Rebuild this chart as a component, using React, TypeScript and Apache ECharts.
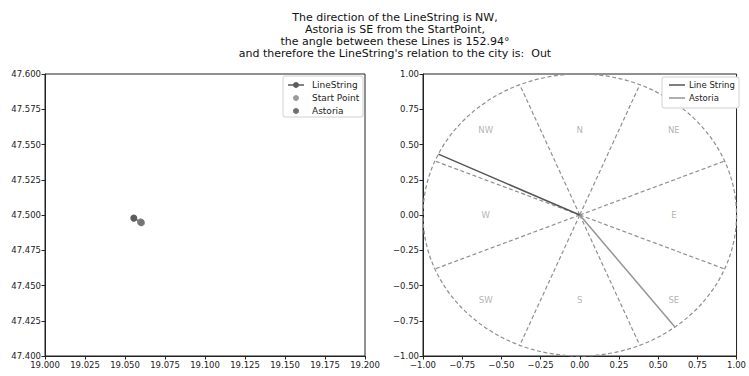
import React, { useEffect, useRef } from "react";
import * as echarts from "echarts";

// ---------- data ----------
const titleLines = [
  "The direction of the LineString is NW,",
  "Astoria is SE from the StartPoint,",
  "the angle between these Lines is 152.94°",
  "and therefore the LineString's relation to the city is:  Out",
];

// left plot (lon / lat)
const lineStringLon = [19.0598, 19.0555];
const lineStringLat = [47.495, 47.4978];
const startPointLonLat = [19.0598, 47.495];
const astoriaLonLat = [19.0603, 47.4945];

// right plot (compass, unit vectors)
const lineStringVector = [-0.902, 0.432];
const astoriaVector = [0.607, -0.795];
const sectorBoundaryAngles = [22.5, 67.5, 112.5, 157.5, 202.5, 247.5, 292.5, 337.5];
const directionLabels = ["N", "NE", "E", "SE", "S", "SW", "W", "NW"];
const directionLabelX = [0, 0.6, 0.6, 0.6, 0, -0.6, -0.6, -0.6];
const directionLabelY = [0.6, 0.6, 0, -0.6, -0.6, -0.6, 0, 0.6];

const FONT = "DejaVu Sans";
const C_LINE = "#5c5c5c";
const C_START = "#9a9a9a";
const C_ASTORIA = "#6e6e6e";
const C_DASH = "#8f8f8f";

const minus = (v: number, d: number) => {
  const s = v.toFixed(d);
  return s.startsWith("-") ? "\u2212" + s.slice(1) : s;
};

function axisCommon(min: number, max: number, interval: number, d: number) {
  return {
    min,
    max,
    interval,
    splitLine: { show: false },
    axisLine: { show: true, onZero: false, lineStyle: { color: "#222", width: 1 } },
    axisTick: { show: true, inside: false, length: 3.5, lineStyle: { color: "#222" } },
    axisLabel: {
      fontFamily: FONT,
      fontSize: 8.5,
      color: "#222",
      margin: 4,
      formatter: (v: number) => minus(v, d),
    },
  };
}

export default function App() {
  const ref = useRef<HTMLDivElement>(null);
  useEffect(() => {
    if (!ref.current) return;
    const chart = echarts.init(ref.current, null, { renderer: "svg" });

    const radialSeries = sectorBoundaryAngles.map((a, i) => ({
      type: "line",
      name: "sector" + i,
      xAxisIndex: 1,
      yAxisIndex: 1,
      data: [
        [0, 0],
        [Math.cos((a * Math.PI) / 180), Math.sin((a * Math.PI) / 180)],
      ],
      showSymbol: false,
      symbol: "none",
      lineStyle: { color: C_DASH, width: 1.2, type: [4, 2.5] },
      z: 2,
    }));

    const option: any = {
      animation: false,
      title: {
        text: titleLines.join("\n"),
        left: 390,
        top: 6,
        textAlign: "center",
        textStyle: {
          fontFamily: FONT,
          fontSize: 11,
          fontWeight: "normal",
          color: "#111",
          lineHeight: 12.2,
        },
      },
      grid: [
        { left: 45, top: 74, width: 320, height: 282, show: true, borderColor: "#222", borderWidth: 1, backgroundColor: "transparent" },
        { left: 423, top: 74, width: 319, height: 282, show: true, borderColor: "#222", borderWidth: 1, backgroundColor: "transparent" },
      ],
      xAxis: [
        { type: "value", gridIndex: 0, ...axisCommon(19.0, 19.2, 0.025, 3) },
        { type: "value", gridIndex: 1, ...axisCommon(-1, 1, 0.25, 2) },
      ],
      yAxis: [
        { type: "value", gridIndex: 0, ...axisCommon(47.4, 47.6, 0.025, 3) },
        { type: "value", gridIndex: 1, ...axisCommon(-1, 1, 0.25, 2) },
      ],
      series: [
        {
          type: "line",
          name: "LineString",
          xAxisIndex: 0,
          yAxisIndex: 0,
          data: lineStringLon.map((x, i) => [x, lineStringLat[i]]),
          symbol: "circle",
          symbolSize: 7,
          showSymbol: true,
          itemStyle: { color: C_LINE },
          lineStyle: { color: C_LINE, width: 1.5 },
          z: 3,
        },
        {
          type: "scatter",
          name: "Start Point",
          xAxisIndex: 0,
          yAxisIndex: 0,
          data: [startPointLonLat],
          symbolSize: 7,
          itemStyle: { color: C_START },
          z: 4,
        },
        {
          type: "scatter",
          name: "Astoria",
          xAxisIndex: 0,
          yAxisIndex: 0,
          data: [astoriaLonLat],
          symbolSize: 7,
          itemStyle: { color: C_ASTORIA },
          z: 5,
        },
        // compass circle
        {
          type: "custom",
          name: "circle",
          xAxisIndex: 1,
          yAxisIndex: 1,
          data: [[0, 0, 1]],
          renderItem: (params: any, api: any) => {
            const c = api.coord([api.value(0), api.value(1)]);
            const s = api.size([api.value(2), api.value(2)]);
            return {
              type: "ellipse",
              shape: { cx: c[0], cy: c[1], rx: s[0], ry: s[1] },
              style: { fill: "none", stroke: C_DASH, lineWidth: 1.2, lineDash: [4, 2.5] },
            };
          },
          clip: false,
          z: 2,
        },
        ...radialSeries,
        {
          type: "scatter",
          name: "labels",
          xAxisIndex: 1,
          yAxisIndex: 1,
          symbolSize: 0,
          data: directionLabels.map((n, i) => ({ name: n, value: [directionLabelX[i], directionLabelY[i]] })),
          label: {
            show: true,
            position: "inside",
            formatter: (p: any) => p.name,
            fontFamily: FONT,
            fontSize: 8.5,
            color: "#a0a0a0",
          },
          z: 3,
        },
        {
          type: "line",
          name: "Line String",
          xAxisIndex: 1,
          yAxisIndex: 1,
          data: [[0, 0], lineStringVector],
          symbol: "none",
          lineStyle: { color: "#555", width: 1.5 },
          z: 4,
        },
        {
          type: "line",
          name: "Astoria vector",
          xAxisIndex: 1,
          yAxisIndex: 1,
          data: [[0, 0], astoriaVector],
          symbol: "none",
          lineStyle: { color: "#959595", width: 1.5 },
          z: 4,
        },
      ],
      graphic: [
        // left legend
        { type: "rect", shape: { x: 283, y: 76, width: 80, height: 41, r: 2 }, style: { fill: "#fff", stroke: "#d0d0d0", lineWidth: 1 }, z: 10 },
        { type: "line", shape: { x1: 288, y1: 85, x2: 304, y2: 85 }, style: { stroke: C_LINE, lineWidth: 1.5 }, z: 11 },
        { type: "circle", shape: { cx: 296, cy: 85, r: 3 }, style: { fill: C_LINE }, z: 11 },
        { type: "text", x: 312, y: 85, style: { text: "LineString", fontFamily: FONT, fontSize: 9, fill: "#222", verticalAlign: "middle" }, z: 11 },
        { type: "circle", shape: { cx: 296, cy: 98, r: 3 }, style: { fill: C_START }, z: 11 },
        { type: "text", x: 312, y: 98, style: { text: "Start Point", fontFamily: FONT, fontSize: 9, fill: "#222", verticalAlign: "middle" }, z: 11 },
        { type: "circle", shape: { cx: 296, cy: 111, r: 3 }, style: { fill: C_ASTORIA }, z: 11 },
        { type: "text", x: 312, y: 111, style: { text: "Astoria", fontFamily: FONT, fontSize: 9, fill: "#222", verticalAlign: "middle" }, z: 11 },
        // right legend
        { type: "rect", shape: { x: 662, y: 77, width: 77, height: 31, r: 2 }, style: { fill: "#fff", stroke: "#d0d0d0", lineWidth: 1 }, z: 10 },
        { type: "line", shape: { x1: 669, y1: 85, x2: 685, y2: 85 }, style: { stroke: "#555", lineWidth: 1.5 }, z: 11 },
        { type: "text", x: 689, y: 85, style: { text: "Line String", fontFamily: FONT, fontSize: 8.5, fill: "#222", verticalAlign: "middle" }, z: 11 },
        { type: "line", shape: { x1: 669, y1: 98, x2: 685, y2: 98 }, style: { stroke: "#959595", lineWidth: 1.5 }, z: 11 },
        { type: "text", x: 689, y: 98, style: { text: "Astoria", fontFamily: FONT, fontSize: 8.5, fill: "#222", verticalAlign: "middle" }, z: 11 },
      ],
    };
    chart.setOption(option);
    return () => chart.dispose();
  }, []);
  return (
    <div
      ref={ref}
      style={{ position: "fixed", left: 0, top: 0, width: 749, height: 376, background: "#fff" }}
    />
  );
}
